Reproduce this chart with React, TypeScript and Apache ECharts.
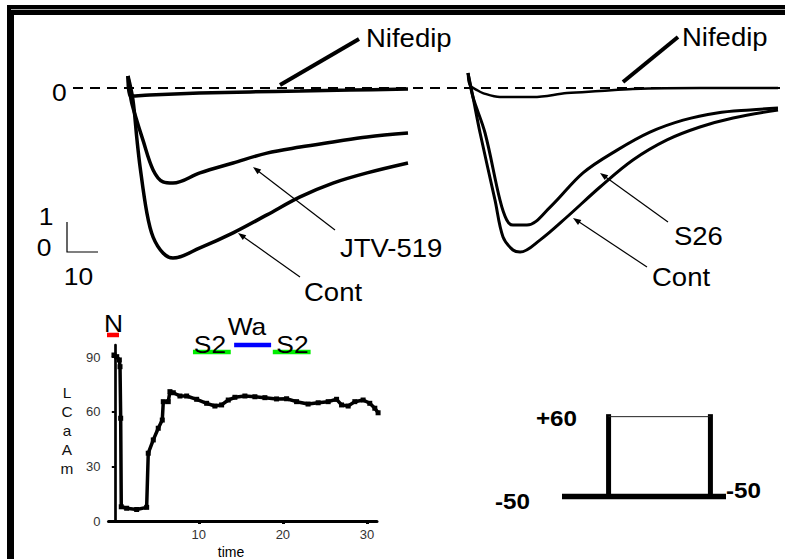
import React, { useEffect, useRef } from 'react';
import * as echarts from 'echarts';

// ---- top traces (time units, current units; scale bar 10 x 1) ----
const leftNif: number[][] = [[0,0.4],[0.8,-0.27],[7,-0.23],[23,-0.17],[39.4,-0.13],[55.5,-0.1],[71.6,-0.07],[90.3,-0.03]];
const leftJtv: number[][] = [[0,0.4],[1,-0.4],[2.3,-0.9],[4.8,-1.73],[8.1,-2.73],[11.3,-3.13],[14.5,-3.17],[23.2,-2.83],[33.9,-2.5],[44.8,-2.17],[55.5,-1.97],[66.1,-1.8],[77.1,-1.63],[90.3,-1.5]];
const leftCont: number[][] = [[0,0.4],[1.6,-0.4],[2.9,-1.73],[3.9,-2.63],[6.1,-4.17],[8.1,-4.97],[11.3,-5.5],[14.5,-5.67],[23.2,-5.33],[33.9,-4.83],[44.8,-4.23],[55.5,-3.63],[66.1,-3.17],[77.1,-2.83],[90.3,-2.5]];
const rightNif: number[][] = [[0,0.5],[0.6,0.1],[2.9,-0.07],[4.8,-0.17],[10.3,-0.3],[21,-0.3],[31.9,-0.17],[42.6,-0.1],[53.2,-0.03],[74.8,0],[100,0]];
const rightS26: number[][] = [[0,0.5],[1.6,-0.3],[5.5,-1.5],[10.3,-3.73],[12.5,-4.4],[14.5,-4.57],[19,-4.57],[26.5,-3.97],[37.1,-2.83],[48.1,-2.07],[58.7,-1.47],[69.4,-1.07],[80.3,-0.83],[91,-0.73],[100,-0.67]];
const rightCont: number[][] = [[0,0.5],[1.6,-0.3],[3.9,-1.5],[8.7,-3.73],[11.3,-4.97],[14.5,-5.4],[16.8,-5.47],[23.2,-5.07],[31.9,-4.3],[42.6,-3.3],[53.2,-2.4],[64.2,-1.73],[74.8,-1.3],[85.5,-1.0],[100,-0.73]];

// ---- bottom-left time course ----
const timeCourse: number[][] = [
  [-0.1,91.1],[0.23,90.2],[0.54,88.4],[0.62,84.7],[0.7,56.4],[0.77,7.8],[1.41,7.0],[2.6,6.3],[3.79,7.5],
  [3.98,37.2],[4.58,44.5],[5.17,50.9],[5.65,55.4],[5.77,65.5],[6.36,65.5],[6.56,71.0],[6.96,70.4],[7.75,68.6],
  [8.55,68.6],[9.74,66.8],[10.93,64.6],[11.91,63.1],[12.71,63.7],[13.5,66.4],[14.29,67.9],[15.48,68.6],
  [16.67,68.2],[17.86,67.7],[19.25,67.0],[20.44,67.1],[21.63,65.5],[23.0,64.2],[24.2,64.9],[25.39,65.5],
  [26.39,66.8],[26.98,63.7],[27.77,63.1],[28.56,65.5],[29.55,66.4],[30.34,64.6],[30.94,61.9],[31.33,59.4]
];
const xTicks = [10, 20, 30];
const yTicks = [0, 30, 60, 90];
const nBar = [-0.93, 0.5];
const s2BarA = [9.3, 13.8];
const waBar = [14.2, 18.6];
const s2BarB = [18.8, 23.3];
const nLevel = 102.1;
const waLevel = 96.6;
const s2Level = 92.8;
const yNameLetters = ['L', 'C', 'a', 'A', 'm'];

// ---- voltage protocol ----
const protoHold = -50;
const protoTest = 60;
const protoOn = 28.4;
const protoOff = 90.5;
const protoEnd = 100;

const FONT = 'Liberation Sans, Arial, Helvetica, sans-serif';

function txt(text: string, x: number, y: number, size: number, align: string, extra: any = {}) {
  return {
    type: 'text', x, y, z: 100,
    scaleX: extra.scaleX ?? 1.1,
    style: {
      text, fontSize: size, fontFamily: FONT, fill: extra.fill ?? '#000',
      fontWeight: extra.bold ? 'bold' : 'normal',
      align, textAlign: align, verticalAlign: 'middle', textVerticalAlign: 'middle',
    },
  };
}

function arrow(x1: number, y1: number, x2: number, y2: number) {
  const a = Math.atan2(y2 - y1, x2 - x1);
  const L = 8, W = 3;
  const c = Math.cos(a), s = Math.sin(a);
  return [
    { type: 'line', z: 50, shape: { x1, y1, x2: x2 - L * 0.7 * c, y2: y2 - L * 0.7 * s }, style: { stroke: '#000', lineWidth: 1.2 } },
    { type: 'polygon', z: 50, shape: { points: [[x2, y2], [x2 - L * c + W * s, y2 - L * s - W * c], [x2 - L * c - W * s, y2 - L * s + W * c]] }, style: { fill: '#000' } },
  ];
}

const lineSeries = (data: number[][], gi: number, width: number, extra: any = {}) => ({
  type: 'line', xAxisIndex: gi, yAxisIndex: gi, data, showSymbol: false, symbol: 'none',
  lineStyle: { color: '#000', width }, itemStyle: { color: '#000' }, silent: true,
  smooth: 0.35, ...extra,
});

const barSeries = (range: number[], level: number, color: string) => ({
  type: 'line', xAxisIndex: 2, yAxisIndex: 2, clip: false, silent: true, symbol: 'none',
  data: [[range[0], level], [range[1], level]], lineStyle: { color, width: 4.5 },
});

const protoSeries = (data: number[][], width: number, cap: string, color = '#000') => ({
  type: 'line', xAxisIndex: 3, yAxisIndex: 3, clip: false, silent: true, symbol: 'none',
  data, lineStyle: { color, width, cap },
});

export default function App() {
  const ref = useRef<HTMLDivElement>(null);
  useEffect(() => {
    if (!ref.current) return;
    const chart = echarts.init(ref.current, undefined, { renderer: 'svg' });
    const hidden = { show: false };
    const option: any = {
      animation: false,
      backgroundColor: '#fff',
      textStyle: { fontFamily: FONT },
      grid: [
        { left: 128, top: 58, width: 280, height: 210 },
        { left: 468, top: 58, width: 310, height: 210 },
        { left: 108.5, top: 345, width: 268.5, height: 176 },
        { left: 562, top: 409.4, width: 164, height: 94.3 },
      ],
      xAxis: [
        { gridIndex: 0, type: 'value', min: 0, max: 90.3, ...hidden },
        { gridIndex: 1, type: 'value', min: 0, max: 100, ...hidden },
        {
          gridIndex: 2, type: 'value', min: -0.75, max: 31.2,
          axisLine: { show: true, onZero: false, lineStyle: { color: '#000', width: 3 } },
          axisTick: { show: true, customValues: xTicks, length: 3, lineStyle: { color: '#000', width: 3 } },
          axisLabel: { customValues: xTicks, color: '#333', fontSize: 13, margin: 7 },
          splitLine: { show: false },
        },
        { gridIndex: 3, type: 'value', min: 0, max: protoEnd, ...hidden },
      ],
      yAxis: [
        { gridIndex: 0, type: 'value', min: -6, max: 1, ...hidden },
        { gridIndex: 1, type: 'value', min: -6, max: 1, ...hidden },
        {
          gridIndex: 2, type: 'value', min: 0, max: 96.6,
          axisLine: { show: true, lineStyle: { color: '#000', width: 2.7 } },
          axisTick: { show: true, customValues: yTicks, length: 3, lineStyle: { color: '#000', width: 2 } },
          axisLabel: { customValues: yTicks, color: '#333', fontSize: 13, margin: 8 },
          splitLine: { show: false },
        },
        { gridIndex: 3, type: 'value', min: -60, max: 70, ...hidden },
      ],
      series: [
        lineSeries(leftNif, 0, 3.5),
        lineSeries(leftJtv, 0, 3.5),
        lineSeries(leftCont, 0, 3.5),
        lineSeries(rightNif, 1, 2.5),
        lineSeries(rightS26, 1, 3),
        lineSeries(rightCont, 1, 3),
        lineSeries(timeCourse, 2, 3.5, { smooth: false, showSymbol: true, symbol: 'rect', symbolSize: 5, clip: false }),
        barSeries(nBar, nLevel, '#ff0000'),
        barSeries(s2BarA, s2Level, '#00ee00'),
        barSeries(waBar, waLevel, '#0000ff'),
        barSeries(s2BarB, s2Level, '#00ee00'),
        protoSeries([[0, protoHold], [protoEnd, protoHold]], 5.5, 'butt'),
        protoSeries([[protoOn, protoHold], [protoOn, protoTest]], 5, 'square'),
        protoSeries([[protoOff, protoHold], [protoOff, protoTest]], 5, 'square'),
        protoSeries([[protoOn, protoTest], [protoOff, protoTest]], 1, 'butt', '#222'),
      ],
      graphic: [
        // frame
        { type: 'rect', z: 10, shape: { x: 7, y: 5, width: 778, height: 10 }, style: { fill: '#000' } },
        { type: 'rect', z: 10, shape: { x: 7, y: 5, width: 7, height: 554 }, style: { fill: '#000' } },
        { type: 'line', z: 11, shape: { x1: 11, y1: 9.5, x2: 785, y2: 9.5 }, style: { stroke: '#aaa', lineWidth: 1 } },
        // dashed zero line
        { type: 'line', z: -1, shape: { x1: 73, y1: 88, x2: 785, y2: 88 }, style: { stroke: '#000', lineWidth: 2, lineDash: [10, 7] } },
        // Nifedip leader lines
        { type: 'line', z: 50, shape: { x1: 280, y1: 85, x2: 359, y2: 39 }, style: { stroke: '#000', lineWidth: 4 } },
        { type: 'line', z: 50, shape: { x1: 623, y1: 82, x2: 678, y2: 37 }, style: { stroke: '#000', lineWidth: 4 } },
        // annotation arrows
        ...arrow(335, 230, 253, 167),
        ...arrow(300, 277, 238, 233),
        ...arrow(668, 222, 600, 173),
        ...arrow(647, 267, 573, 218),
        // scale bar
        { type: 'polyline', z: 50, shape: { points: [[67, 222], [67, 252], [98, 252]] }, style: { stroke: '#000', lineWidth: 1.2, fill: null } },
        // texts
        txt('Nifedip', 366, 38, 25, 'left'),
        txt('Nifedip', 682, 37.5, 25, 'left'),
        txt('JTV-519', 340, 248.5, 25, 'left'),
        txt('Cont', 304, 292.5, 25, 'left'),
        txt('S26', 674, 236, 25, 'left'),
        txt('Cont', 652, 277.5, 25, 'left'),
        txt('0', 52, 92.5, 24, 'left'),
        txt('1', 46, 216.5, 24, 'center'),
        txt('0', 44, 247.5, 24, 'center'),
        txt('10', 78.5, 276, 24, 'center'),
        txt('N', 113.5, 323.5, 24, 'center'),
        txt('Wa', 247, 326, 24, 'center'),
        txt('S2', 210, 344, 24, 'center'),
        txt('S2', 292.5, 344, 24, 'center'),
        txt('time', 231, 552, 14, 'center', { scaleX: 1 }),
        ...yNameLetters.map((l, i) => txt(l, 67, 393 + i * 19, 14, 'center', { scaleX: 1.1, fill: '#111' })),
        txt('+60', 536, 418, 22, 'left', { bold: true }),
        txt('-50', 495, 501, 22, 'left', { bold: true }),
        txt('-50', 726, 490, 22, 'left', { bold: true }),
      ],
    };
    chart.setOption(option);
    return () => chart.dispose();
  }, []);
  return <div ref={ref} style={{ position: 'fixed', left: 0, top: 0, width: 785, height: 559, background: '#fff' }} />;
}
